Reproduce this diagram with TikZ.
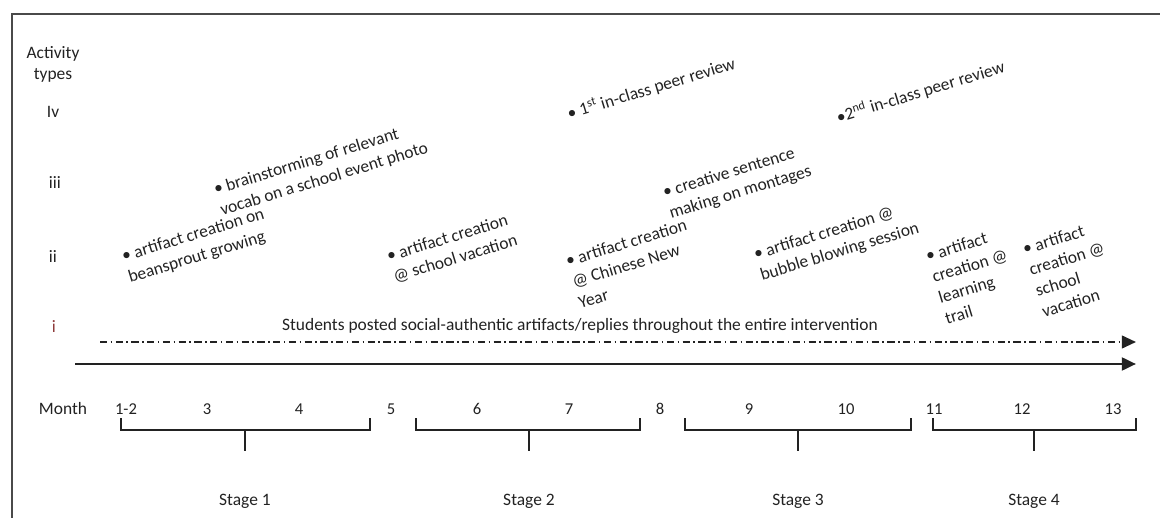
\documentclass[tikz,border=0pt]{standalone}
\usepackage{fontspec}
\setmainfont{Carlito}
\usetikzlibrary{arrows.meta,positioning,calc}
\definecolor{ink}{HTML}{222222}
\definecolor{frame}{HTML}{4A4A4A}
\definecolor{rowred}{HTML}{8E3B3B}

\begin{document}
\begin{tikzpicture}[x=0.025cm,y=-0.025cm,text=ink,font=\fontsize{12.4}{15}\selectfont,
 act/.style={rotate=17,anchor=north west,align=left,inner sep=0pt,font=\fontsize{12.4}{15.6}\selectfont},
 lbl/.style={inner sep=1pt},
 brace/.style={draw=ink,line width=1.1pt}]
 \useasboundingbox (0,0) rectangle (1160,518);
 \draw[frame,line width=1.7pt] (12,521) -- (12,14) -- (1163,14);
 % activity types
 \node[lbl,align=center] (types) at (53,64) {Activity\\types};
 \node[lbl] (r4) at (53,112) {Iv};
 \node[lbl] (r3) at (55,183) {iii};
 \node[lbl] (r2) at (53,257) {ii};
 \node[lbl,text=rowred] (r1) at (54,327) {i};
 % activities
 \node[act] (a1) at (120,250) {• artifact creation on\\beansprout growing};
 \node[act] (a2) at (212,183) {• brainstorming of relevant\\vocab on a school event photo};
 \node[act] (a3) at (385,250) {• artifact creation\\@ school vacation};
 \node[act] (a4) at (565,106) {• 1\textsuperscript{st} in-class peer review};
 \node[act] (a5) at (564,255) {• artifact creation\\@ Chinese New\\Year};
 \node[act] (a6) at (661,186) {• creative sentence\\making on montages};
 \node[act] (a7) at (834,109) {•2\textsuperscript{nd} in-class peer review};
 \node[act] (a8) at (752,248) {• artifact creation @\\bubble blowing session};
 \node[act] (a9) at (924,250) {• artifact\\creation @\\learning\\trail};
 \node[act] (a10) at (1021,243) {• artifact\\creation @\\school\\vacation};
 % timelines
 \node[lbl] (posts) at (580,326) {Students posted social-authentic artifacts/replies throughout the entire intervention};
 \coordinate (dstart) at (100,342);
 \coordinate (dend) at (1136,342);
 \coordinate (sstart) at (75,364);
 \coordinate (send) at (1136,364);
 \draw[ink,line width=1.4pt,dash pattern=on 5pt off 2.5pt on 1.2pt off 2.5pt,-{Triangle[length=10pt,width=9pt]}] (dstart) -- (dend);
 \draw[ink,line width=2pt,-{Triangle[length=10pt,width=9pt]}] (sstart) -- (send);
 % months
 \node[lbl] (month) at (63,409) {Month};
 \foreach \x/\t [count=\i] in {126/1-2,207/3,299/4,391/5,477/6,569/7,660/8,749/9,846/10,934/11,1022/12,1113/13}
  \node[lbl,font=\fontsize{11.8}{13}\selectfont] (m\i) at (\x,409) {\t};
 % stages
 \foreach \a/\b/\c [count=\i] in {121/370/245,416/640/529,685/911/798,933/1136/1034}{
  \draw[brace] (\a,418) -- (\a,430) -- (\b,430) -- (\b,418);
  \draw[brace] (\c,430) -- (\c,451);
  \node[lbl] (stage\i) at (\c,501) {Stage \i};
 }
\end{tikzpicture}
\end{document}
